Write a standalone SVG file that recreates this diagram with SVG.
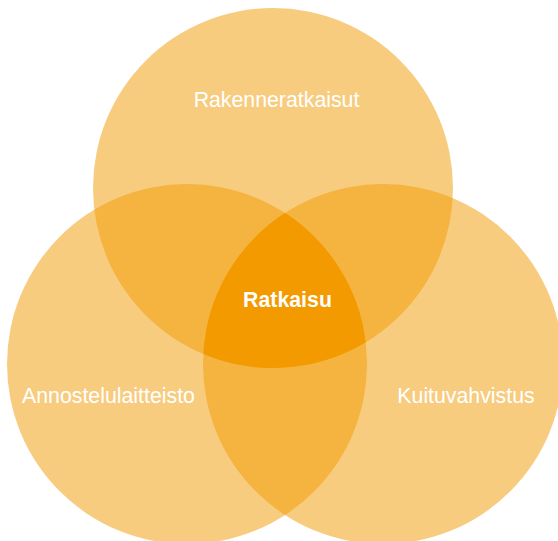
<svg xmlns="http://www.w3.org/2000/svg" width="558" height="541" viewBox="0 0 558 541">
<style>
.c{fill:#F29A00;fill-opacity:0.5}
.t{font-family:"Liberation Sans",Arial,sans-serif;font-size:21.3px;fill:#FFFFFF;text-anchor:middle}
.b{font-weight:bold}
</style>
<defs>
<clipPath id="cl"><circle cx="187" cy="364" r="180"/></clipPath>
<clipPath id="cr"><circle cx="383" cy="364" r="180"/></clipPath>
</defs>
<rect width="558" height="541" fill="#FFFFFF"/>
<g id="top"><circle class="c" cx="273" cy="188" r="180"/><text class="t" x="276.5" y="106.5">Rakenneratkaisut</text></g>
<g id="left"><circle class="c" cx="187" cy="364" r="180"/><text class="t" x="108.5" y="403">Annostelulaitteisto</text></g>
<g id="right"><circle class="c" cx="383" cy="364" r="180"/><text class="t" x="466" y="403">Kuituvahvistus</text></g>
<g id="center">
<g clip-path="url(#cl)"><g clip-path="url(#cr)"><circle cx="273" cy="188" r="180" fill="#F29A00"/></g></g>
<text class="t b" x="287.5" y="307">Ratkaisu</text>
</g>
<g id="connectors"/>
</svg>
